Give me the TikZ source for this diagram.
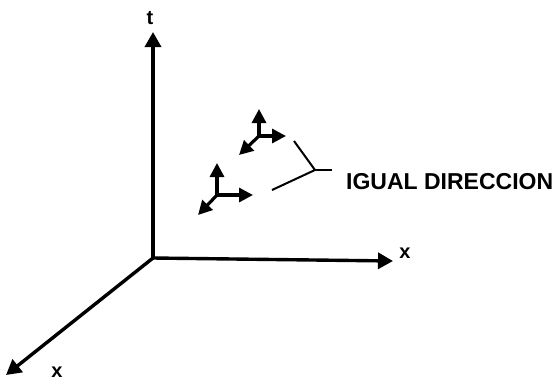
\documentclass[tikz,border=0pt]{standalone}
\usepackage{fontspec}
\setmainfont{Liberation Sans}
\usetikzlibrary{arrows.meta}

\begin{document}
\begin{tikzpicture}[x=1pt,y=-1pt,
    axis/.style={line width=3.4pt, -{Triangle[length=15pt,width=16pt]}},
    vec/.style={line width=3.2pt, -{Triangle[length=14pt,width=14pt]}},
    brace/.style={line width=2pt},
    lbl/.style={font=\bfseries\fontsize{20}{22}\selectfont}]
    \useasboundingbox (0,0) rectangle (554,383);

    % Draw the axes
    \coordinate (O) at (153,258);
    \coordinate (tend) at (153,32);
    \coordinate (xend) at (393,261);
    \coordinate (zend) at (6,375);
    \draw[axis] (O) -- (tend);
    \draw[axis] (O) -- (xend);
    \draw[axis] (O) -- (zend);

    % Label the axes
    \node[lbl] (t) at (150,18) {t};
    \node[lbl] (xr) at (405,253) {x};
    \node[lbl] (xl) at (57,372) {x};

    % Draw the two frames
    \foreach \cx/\cy/\up/\rt/\dx/\dy in {259/136/27/27/-20/19, 217/195/32/36/-19/20}{
        \draw[vec] (\cx,\cy) -- ++(0,-\up);
        \draw[vec] (\cx,\cy) -- ++(\rt,0);
        \draw[vec] (\cx,\cy) -- ++(\dx,\dy);
    }

    % Draw the brace and label it
    \coordinate (j) at (315,170);
    \coordinate (b1) at (294,141);
    \coordinate (b2) at (272,190);
    \coordinate (b3) at (332,170);
    \draw[brace] (b1) -- (j) -- (b2);
    \draw[brace] (j) -- (b3);
    \node[anchor=west, font=\bfseries\fontsize{23}{26}\selectfont, inner sep=0pt] (dir) at (346,182) {IGUAL DIRECCION};
\end{tikzpicture}
\end{document}
